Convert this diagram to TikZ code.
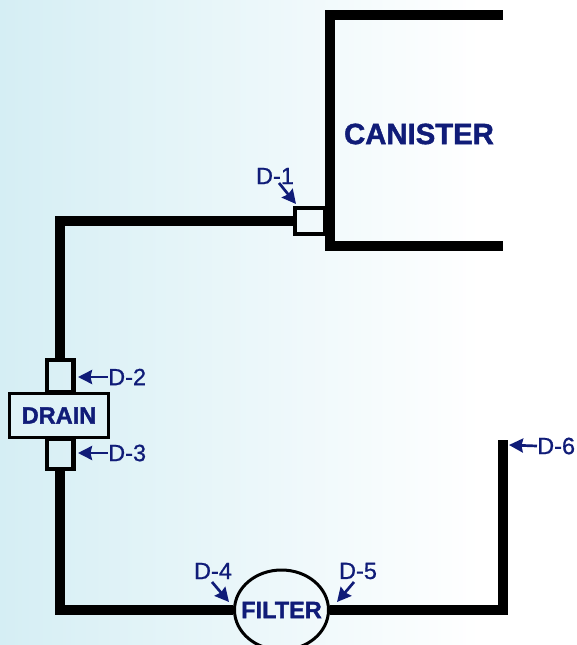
\documentclass[tikz,border=0pt]{standalone}
\usepackage{fontspec}
\setmainfont{Liberation Sans}
\newfontfamily\partfont[UprightFont=* Bold,FakeBold=1.5]{Liberation Sans}
\newfontfamily\tagfont[FakeBold=0.8]{Liberation Sans}
\usepackage{xcolor}
\usetikzlibrary{shapes.geometric,arrows.meta}
\definecolor{labelblue}{RGB}{16,28,120}
\definecolor{leftblue}{RGB}{213,238,244}

\begin{document}
\begin{tikzpicture}[x=1pt,y=-1pt]
	\tikzset{pipe/.style={line width=9.5pt}}
	\tikzset{fitting/.style={draw,line width=4.5pt,inner sep=0pt}}
	\tikzset{part/.style={font=\fontsize{23.5}{24}\selectfont\partfont,text=labelblue,inner sep=0pt}}
	\tikzset{tag/.style={font=\fontsize{23.5}{24}\selectfont\tagfont,text=labelblue,inner sep=0pt}}
	\tikzset{pointer/.style={-{Stealth[length=14pt,width=14pt,inset=1.5pt]},line width=2.7pt,draw=labelblue}}
	\useasboundingbox (0,0) rectangle (576,645);
	\shade[left color=leftblue,right color=white] (0,0) rectangle (480,645);
	% canister
	\coordinate (cantop) at (503,15);
	\coordinate (cancorner) at (330,15);
	\coordinate (canlow) at (330,246);
	\coordinate (canbot) at (503,246);
	\draw[pipe] (cantop) -- (cancorner) -- (canlow) -- (canbot);
	\node[part,font=\fontsize{29.3}{30}\selectfont\partfont] (canister) at (419,134) {CANISTER};
	% fittings and parts
	\node[fitting,minimum width=30pt,minimum height=26pt] (d1box) at (310,221) {};
	\node[fitting,minimum width=26.5pt,minimum height=32pt] (d2box) at (60,376) {};
	\node[fitting,minimum width=26.5pt,minimum height=30pt] (d3box) at (60,454) {};
	\node[part,draw=black,line width=3pt,minimum width=99pt,minimum height=44pt,fill=leftblue!75] (drain) at (59,415.5) {DRAIN};
	\node[part,ellipse,draw=black,line width=3pt,minimum width=94pt,minimum height=80pt] (filter) at (281.5,610) {\makebox[0pt][c]{FILTER}};
	% line
	\coordinate (elbowtop) at (60,221);
	\coordinate (elbowbot) at (60,610);
	\coordinate (elbowright) at (503,610);
	\coordinate (pipeend) at (503,440);
	\draw[pipe] (d1box.west) -- (elbowtop) -- (d2box.north);
	\draw[pipe] (d3box.south) -- (elbowbot) -- (filter.west);
	\draw[pipe] (filter.east) -- (elbowright) -- (pipeend);
	% labels
	\node[tag] (d1) at (275,176) {D-1};
	\node[tag,anchor=west] (d2) at (108,377) {D-2};
	\node[tag,anchor=west] (d3) at (108,453) {D-3};
	\node[tag] (d4) at (213,571) {D-4};
	\node[tag] (d5) at (358,571) {D-5};
	\node[tag,anchor=west] (d6) at (537,446) {D-6};
	\coordinate (d1tip) at (296,204);
	\coordinate (d2tip) at (78,377);
	\coordinate (d3tip) at (78,453);
	\coordinate (d4tip) at (229,602);
	\coordinate (d5tip) at (337,602);
	\coordinate (d6tip) at (509,445);
	\draw[pointer] (279,183) -- (d1tip);
	\draw[pointer] (d2.west) -- (d2tip);
	\draw[pointer] (d3.west) -- (d3tip);
	\draw[pointer] (212,582) -- (d4tip);
	\draw[pointer] (354,582) -- (d5tip);
	\draw[pointer] (d6.west) -- (d6tip);
\end{tikzpicture}
\end{document}
